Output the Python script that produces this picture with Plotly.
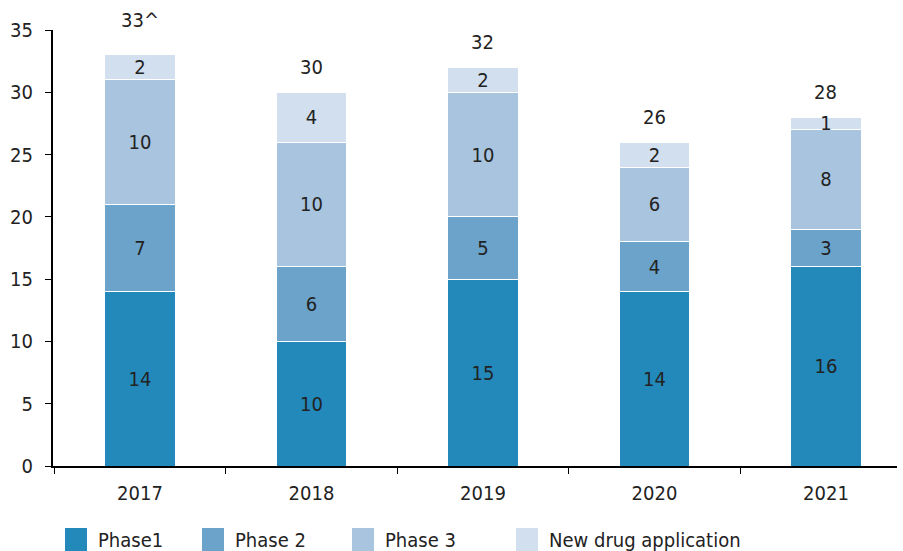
import plotly.graph_objects as go

years = ["2017", "2018", "2019", "2020", "2021"]
phase1 = [14, 10, 15, 14, 16]
phase2 = [7, 6, 5, 4, 3]
phase3 = [10, 10, 10, 6, 8]
nda = [2, 4, 2, 2, 1]
total_labels = ["33^", "30", "32", "26", "28"]
series_names = ["Phase1", "Phase 2", "Phase 3", "New drug application"]
colors = ["#2389BB", "#6BA3CB", "#A9C4DF", "#D2DFEE"]

FONT = "DejaVu Sans Condensed, DejaVu Sans"
FS = 20
TXT = "#222222"

fig = go.Figure()
for name, vals, col in zip(series_names, [phase1, phase2, phase3, nda], colors):
    fig.add_trace(go.Bar(
        x=years, y=vals, name=name,
        marker=dict(color=col, line=dict(color="white", width=1)),
        text=[str(v) for v in vals], textposition="inside", textangle=0,
        insidetextanchor="middle", constraintext="none",
        textfont=dict(family=FONT, size=FS, color=TXT),
        width=0.41, showlegend=False,
    ))

totals = [a + b + c + d for a, b, c, d in zip(phase1, phase2, phase3, nda)]
for i, (t, lab) in enumerate(zip(totals, total_labels)):
    fig.add_annotation(x=i, y=t, xref="x", yref="y", text=lab, showarrow=False,
                       yanchor="bottom", yshift=21 if i == 0 else 11,
                       font=dict(family=FONT, size=FS, color=TXT))

# manual legend
L, W, B, H = 53, 844, 466, 436
def px(x):
    return (x - L) / W
def py(y):
    return (B - y) / H
sw_x = [65, 202, 352, 516]
for name, col, x0 in zip(series_names, colors, sw_x):
    fig.add_shape(type="rect", xref="paper", yref="paper",
                  x0=px(x0), x1=px(x0 + 22), y0=py(551), y1=py(528),
                  fillcolor=col, line=dict(width=0))
    fig.add_annotation(xref="paper", yref="paper", x=px(x0 + 31), y=py(540),
                       text=name, showarrow=False, xanchor="left", yanchor="middle",
                       font=dict(family=FONT, size=FS, color=TXT))

fig.update_layout(
    barmode="stack", width=903, height=551,
    margin=dict(l=53, r=6, t=30, b=85),
    plot_bgcolor="white", paper_bgcolor="white",
    font=dict(family=FONT, size=FS, color=TXT),
    xaxis=dict(type="category", range=[-0.507, 4.414], showline=True, linecolor="black",
               linewidth=2, ticks="outside", tickson="boundaries", ticklen=6,
               tickcolor="black", showgrid=False, tickfont=dict(size=FS),
               ticklabelstandoff=8),
    yaxis=dict(range=[0, 35], dtick=5, showline=True, linecolor="black", linewidth=2,
               ticks="outside", ticklen=6, tickcolor="black", showgrid=False,
               zeroline=False, tickfont=dict(size=FS), ticklabelstandoff=8),
)

fig.write_html("out.html", config={"displayModeBar": False},
               post_script="document.body.style.margin='0px';")
